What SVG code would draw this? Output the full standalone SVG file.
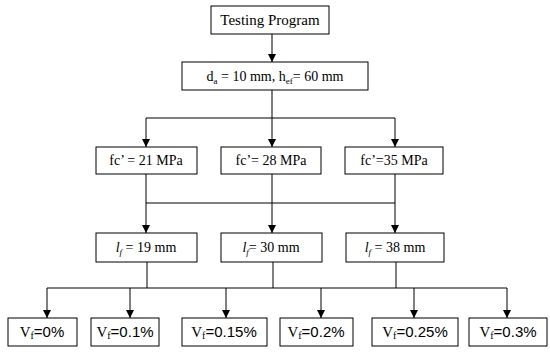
<svg xmlns="http://www.w3.org/2000/svg" width="550" height="352" viewBox="0 0 550 352">
<style>
rect.box{fill:#fff;stroke:#000;stroke-width:1}
text{font-family:"Liberation Serif","Times New Roman",serif;font-size:14px;fill:#000;text-anchor:middle}
text.big{font-size:15px}
.sans{font-family:"Liberation Sans",Arial,sans-serif}
.conn path{fill:none;stroke:#000;stroke-width:1}
</style>
<defs>
<marker id="ah" markerUnits="userSpaceOnUse" markerWidth="8" markerHeight="9" refX="8" refY="4" orient="auto">
<path d="M0,0 L8,4 L0,8 z" fill="#000"/>
</marker>
</defs>
<rect width="550" height="352" fill="#fff"/>
<g class="conn">
<path d="M272,34 V62" marker-end="url(#ah)"/>
<path d="M272,90 V118 M146,118 H395"/>
<path d="M146,118 V147" marker-end="url(#ah)"/>
<path d="M272,118 V147" marker-end="url(#ah)"/>
<path d="M395,118 V147" marker-end="url(#ah)"/>
<path d="M146,174 V203 M272,174 V203 M395,174 V203 M146,203 H395"/>
<path d="M146,203 V233" marker-end="url(#ah)"/>
<path d="M272,203 V233" marker-end="url(#ah)"/>
<path d="M395,203 V233" marker-end="url(#ah)"/>
<path d="M147,262 V288 M273,262 V288 M396,262 V288 M47,288 H507"/>
<path d="M47,288 V318" marker-end="url(#ah)"/>
<path d="M130,288 V318" marker-end="url(#ah)"/>
<path d="M226,288 V318" marker-end="url(#ah)"/>
<path d="M321,288 V318" marker-end="url(#ah)"/>
<path d="M414,288 V318" marker-end="url(#ah)"/>
<path d="M507,288 V318" marker-end="url(#ah)"/>
</g>
<g id="testing">
<rect class="box" x="211" y="6" width="118" height="28"/>
<text class="big" x="270" y="25">Testing Program</text>
</g>
<g id="anchor">
<rect class="box" x="182" y="62" width="186" height="28"/>
<text x="275" y="81">d<tspan font-size="9" dy="3">a</tspan><tspan dy="-3"> = 10 mm, h</tspan><tspan font-size="9" dy="3">ef</tspan><tspan dy="-3">= 60 mm</tspan></text>
</g>
<g id="fc21">
<rect class="box" x="96" y="147" width="101" height="27"/>
<text x="146" y="165">fc’ = 21 MPa</text>
</g>
<g id="fc28">
<rect class="box" x="221" y="147" width="100" height="27"/>
<text x="271" y="165">fc’= 28 MPa</text>
</g>
<g id="fc35">
<rect class="box" x="345" y="147" width="98" height="27"/>
<text x="394" y="165">fc’=35 MPa</text>
</g>
<g id="lf19">
<rect class="box" x="96" y="233" width="101" height="29"/>
<text x="146" y="252"><tspan font-style="italic">l</tspan><tspan font-style="italic" font-size="9" dy="3">f</tspan><tspan dy="-3"> = 19 mm</tspan></text>
</g>
<g id="lf30">
<rect class="box" x="221" y="233" width="101" height="29"/>
<text x="271" y="252"><tspan font-style="italic">l</tspan><tspan font-style="italic" font-size="9" dy="3">f</tspan><tspan dy="-3">= 30 mm</tspan></text>
</g>
<g id="lf38">
<rect class="box" x="346" y="233" width="98" height="29"/>
<text x="395" y="252"><tspan font-style="italic">l</tspan><tspan font-style="italic" font-size="9" dy="3">f</tspan><tspan dy="-3"> = 38 mm</tspan></text>
</g>
<g id="vf0">
<rect class="box" x="8" y="318" width="69" height="28"/>
<text class="big" x="42" y="337">V<tspan font-size="10" dy="2">f</tspan><tspan class="sans" dy="-2">=0%</tspan></text>
</g>
<g id="vf01">
<rect class="box" x="91" y="318" width="68" height="28"/>
<text class="big" x="125" y="337">V<tspan font-size="10" dy="2">f</tspan><tspan class="sans" dy="-2">=0.1%</tspan></text>
</g>
<g id="vf015">
<rect class="box" x="182" y="318" width="85" height="28"/>
<text class="big" x="224" y="337">V<tspan font-size="10" dy="2">f</tspan><tspan class="sans" dy="-2">=0.15%</tspan></text>
</g>
<g id="vf02">
<rect class="box" x="280" y="318" width="73" height="28"/>
<text class="big" x="316" y="337">V<tspan font-size="10" dy="2">f</tspan><tspan class="sans" dy="-2">=0.2%</tspan></text>
</g>
<g id="vf025">
<rect class="box" x="372" y="318" width="86" height="28"/>
<text class="big" x="415" y="337">V<tspan font-size="10" dy="2">f</tspan><tspan class="sans" dy="-2">=0.25%</tspan></text>
</g>
<g id="vf03">
<rect class="box" x="469" y="318" width="78" height="28"/>
<text class="big" x="508" y="337">V<tspan font-size="10" dy="2">f</tspan><tspan class="sans" dy="-2">=0.3%</tspan></text>
</g>
</svg>
